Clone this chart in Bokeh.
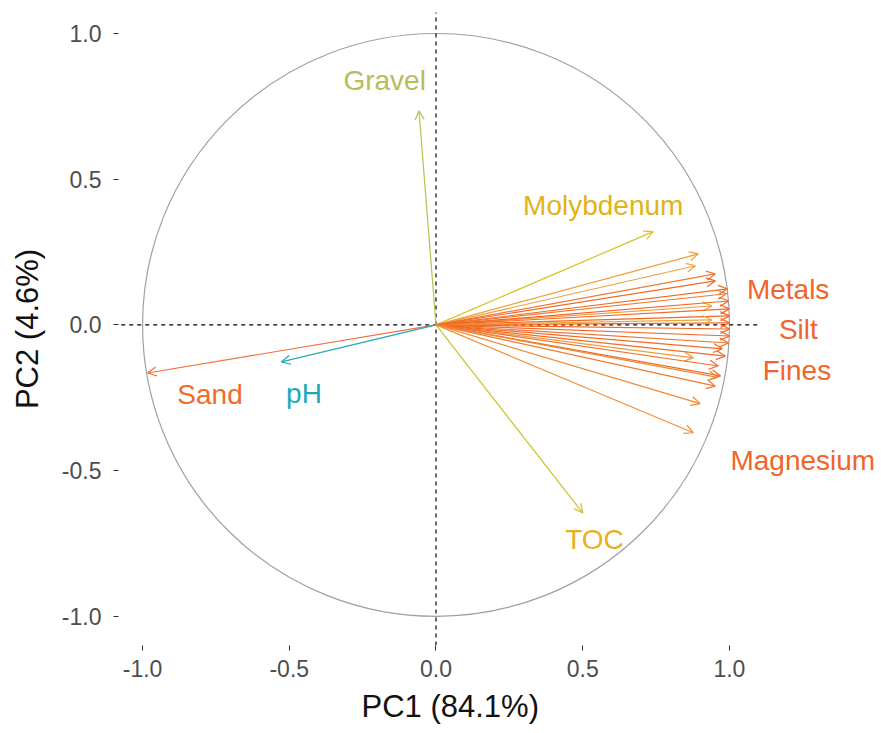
from bokeh.plotting import figure
from bokeh.models import (Range1d, Arrow, OpenHead, FixedTicker, ColumnDataSource,
                          NumeralTickFormatter, Title)
from bokeh.embed import file_html
from bokeh.resources import INLINE
from bokeh.core.properties import value

# ---- data (loadings) ----
var_x = [-0.058, 0.74, 0.50, -0.983, -0.527,
         0.894, 0.884, 0.952, 0.952, 0.993, 0.990, 0.940, 0.997, 1.000, 1.000,
         1.000, 0.940, 1.000, 1.000, 0.997, 0.976, 0.877, 0.986, 0.962, 0.970,
         0.960, 0.952, 0.900, 0.877]
var_y = [0.735, 0.32, -0.645, -0.165, -0.127,
         0.244, 0.203, 0.175, 0.151, 0.124, 0.107, 0.065, 0.082, 0.055, 0.031,
         0.007, 0.017, -0.014, -0.038, -0.062, -0.082, -0.113, -0.107, -0.141, -0.175,
         -0.180, -0.210, -0.270, -0.370]
var_color = ["#b9c150", "#d9c222", "#cbc22a", "#f0703a", "#22a9b9",
             "#f0a040", "#eea03c", "#f07a30", "#f26a26", "#f46a22", "#f07a30",
             "#f09a38", "#f26522", "#f46a24", "#f26522", "#f46a22", "#eaa838",
             "#f26522", "#f46a26", "#f07030", "#f26a26", "#eaa036", "#f46a24",
             "#f07030", "#f26a26", "#ee8a30", "#f07a30", "#f08a34", "#f09034"]

label_text = ["Gravel", "Molybdenum", "TOC", "Sand", "pH",
              "Metals", "Silt", "Fines", "Magnesium"]
label_x = [-0.175, 0.57, 0.54, -0.77, -0.45, 1.20, 1.235, 1.23, 1.25]
label_y = [0.84, 0.41, -0.735, -0.24, -0.237, 0.12, -0.017, -0.155, -0.465]
label_color = ["#b8bc5a", "#e0b416", "#e8b020", "#f26b2b", "#1fa8b8",
               "#f2652a", "#f2652a", "#f2652a", "#f2652a"]

ticks = [-1.0, -0.5, 0.0, 0.5, 1.0]
x_title = "PC1 (84.1%)"
y_title = "PC2 (4.6%)"

FONT = "Liberation Sans"

p = figure(width=881, height=733, output_backend="svg", toolbar_location=None,
           x_range=Range1d(-1.082, 1.508), y_range=Range1d(-1.100, 1.072),
           min_border_left=118, min_border_right=3, min_border_top=12,
           min_border_bottom=88)
p.outline_line_color = None
p.grid.visible = False
p.background_fill_color = "white"
p.border_fill_color = "white"

for ax in (p.xaxis[0], p.yaxis[0]):
    ax.ticker = FixedTicker(ticks=ticks)
    ax.formatter = NumeralTickFormatter(format="0.0")
    ax.axis_line_color = None
    ax.major_tick_in = 0
    ax.major_tick_out = 5
    ax.major_tick_line_color = "#333333"
    ax.minor_tick_line_color = None
    ax.major_label_text_font = FONT
    ax.major_label_text_font_size = "23px"
    ax.major_label_text_color = "#4d4d4d"
    ax.axis_label_text_font = FONT
    ax.axis_label_text_font_size = "31px"
    ax.axis_label_text_font_style = "normal"
    ax.axis_label_text_color = "#111111"

p.yaxis[0].axis_label = y_title
p.xaxis[0].major_label_standoff = 9
p.yaxis[0].major_label_standoff = 12
p.yaxis[0].axis_label_standoff = 14

# x-axis title centred on the circle panel (as in the reference)
p.add_layout(Title(text=x_title, align="left", offset=243, standoff=15,
                   text_font=FONT, text_font_size="31px",
                   text_font_style="normal", text_color="#111111"), "below")

# unit circle
p.ellipse(x=[0], y=[0], width=[2], height=[2], fill_color=None,
          line_color="#a0a0a0", line_width=1.2)

# reference dashed lines
p.segment(x0=[-1.1, 0], y0=[0, -1.1], x1=[1.1, 0], y1=[0, 1.1],
          line_color="black", line_dash="4 4", line_width=1.2)

# arrows
for xe, ye, c in zip(var_x, var_y, var_color):
    p.add_layout(Arrow(x_start=0, y_start=0, x_end=xe, y_end=ye,
                       line_color=c, line_width=1.2,
                       end=OpenHead(size=9, line_color=c, line_width=1.2)))

# labels
src = ColumnDataSource(dict(x=label_x, y=label_y, t=label_text, c=label_color))
p.text(x="x", y="y", text="t", text_color="c", source=src,
       text_font=value(FONT), text_font_size="28px",
       text_align="center", text_baseline="middle")

open("out.html", "w").write(file_html(p, INLINE))
